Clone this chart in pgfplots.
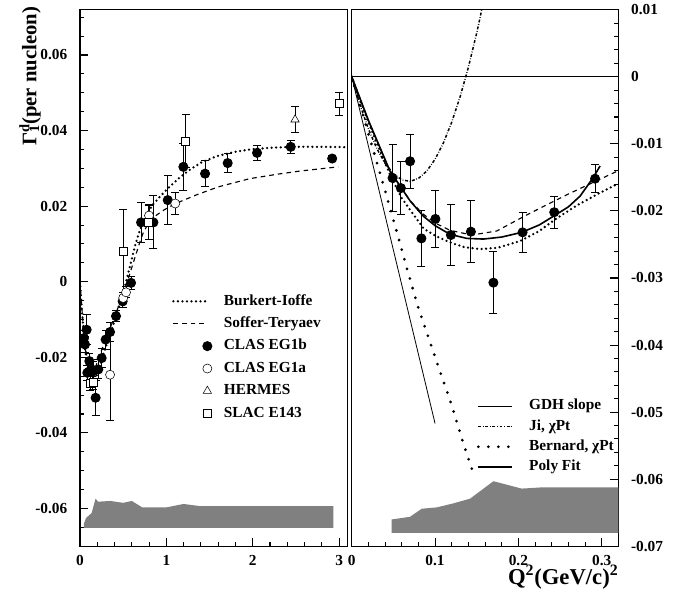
\documentclass[border=0pt]{standalone}
\usepackage{fontspec}
\setmainfont{Liberation Serif}
\usepackage{pgfplots}
\pgfplotsset{compat=1.18}
\definecolor{band}{gray}{0.5}

\newcommand{\lblfont}{\fontsize{11.5}{13}\selectfont\bfseries}

\pgfplotsset{
  panel/.style={
    scale only axis, height=402.5pt,
    scaled x ticks=false, scaled y ticks=false,
    axis line style={line width=1.1pt},
    tick align=inside, major tick length=6pt, minor tick length=3pt,
    tick style={line width=0.8pt, black},
    tick label style={font=\lblfont},
    legend cell align=left,
    legend style={draw=none, fill=none, inner sep=0pt, outer sep=0pt,
      font=\lblfont, nodes={inner sep=0pt, text height=8pt, text depth=2.5pt}},
    legend image code/.code={\draw[##1] (0pt,0pt) -- (24pt,0pt);},
  },
  dat/.style={only marks, black, mark size=3.4pt, mark options={line width=0.7pt, solid},
    error bars/y dir=both, error bars/y explicit,
    error bars/error bar style={line width=0.75pt, black, solid},
    error bars/error mark options={rotate=90, mark size=3pt, line width=0.75pt, black, solid}},
  markleg/.style={legend image code/.code={\draw[##1] plot coordinates {(25.5pt,0pt)};}},
  bistyle/.style={black, line width=1.9pt, line cap=round, dash pattern=on 0pt off 3.4pt},
  ststyle/.style={black, line width=0.85pt, dash pattern=on 3.5pt off 3pt},
}

\begin{document}
\begin{tikzpicture}
\path (0pt,0pt) rectangle (510.75pt,447pt);

% ---------------- left panel ----------------
\begin{axis}[panel, at={(60pt,38.25pt)}, anchor=south west, width=200.8pt,
  xmin=0, xmax=3.1, ymin=-0.07, ymax=0.072,
  xtick={0,1,2,3}, xticklabels={0,1,2,3},
  minor xtick={0.2,0.4,0.6,0.8,1.2,1.4,1.6,1.8,2.2,2.4,2.6,2.8,3.0},
  ytick={-0.06,-0.04,-0.02,0,0.02,0.04,0.06},
  yticklabels={-0.06,-0.04,-0.02,0,0.02,0.04,0.06},
  minor ytick={-0.065,-0.055,-0.05,-0.045,-0.035,-0.03,-0.025,-0.015,-0.01,-0.005,
    0.005,0.01,0.015,0.025,0.03,0.035,0.045,0.05,0.055,0.065,0.07},
  xtick pos=left, ytick pos=left,
  yticklabel style={xshift=-6pt}, xticklabel style={yshift=-3pt},
  legend style={at={(0.344,0.4695)}, anchor=north west, row sep=6.3pt,
    /tikz/every odd column/.append style={column sep=9pt}},
]
\addplot[fill=band, draw=none, forget plot] coordinates {
(0.046,-0.0651) (0.046,-0.0640) (0.07,-0.0625) (0.135,-0.0612) (0.18,-0.0574)
(0.21,-0.0582) (0.35,-0.0580) (0.5,-0.0585) (0.6,-0.0580) (0.72,-0.0597)
(1.0,-0.0597) (1.2,-0.0588) (1.4,-0.0594) (2.935,-0.0594) (2.935,-0.0651)};

\addplot[bistyle] coordinates {
(0,0) (0.01,-0.0035) (0.02,-0.0068) (0.03,-0.0099) (0.046,-0.0146) (0.06,-0.0181)
(0.086,-0.0226) (0.1,-0.0237) (0.118,-0.0247) (0.135,-0.0254) (0.154,-0.0257)
(0.175,-0.0255) (0.202,-0.0245) (0.225,-0.0230) (0.246,-0.0211) (0.27,-0.0192)
(0.295,-0.0175) (0.32,-0.0159) (0.38,-0.0118) (0.42,-0.0088) (0.47,-0.0052)
(0.52,-0.0012) (0.58,0.0042) (0.637,0.0095) (0.695,0.0138) (0.77,0.0178)
(0.85,0.0206) (0.95,0.0231) (1.05,0.0254) (1.15,0.0275) (1.25,0.0293) (1.4,0.0315)
(1.58,0.0332) (1.8,0.0344) (2.0,0.0351) (2.25,0.0355) (2.5,0.0357) (2.8,0.0357) (3.1,0.0356)};
\addlegendentry{Burkert-Ioffe}

\addplot[ststyle] coordinates {
(0,0) (0.02,-0.0066) (0.046,-0.0141) (0.07,-0.0185) (0.086,-0.0205) (0.1,-0.0218)
(0.118,-0.0229) (0.144,-0.0236) (0.174,-0.0230) (0.21,-0.0206) (0.258,-0.0176)
(0.32,-0.0140) (0.4,-0.0092) (0.5,-0.0034) (0.6,0.0038) (0.7,0.0110) (0.733,0.0130)
(0.78,0.0150) (0.85,0.0170) (0.95,0.0187) (1.05,0.0200) (1.16,0.0212) (1.35,0.0230)
(1.6,0.0251) (1.97,0.0273) (2.3,0.0285) (2.55,0.0293) (2.99,0.0304)};
\addlegendentry{Soffer-Teryaev}

\addplot[dat, mark=*, markleg] table[x=x, y=y, y error=e] {
x y e
0.046 -0.0149 0.0020
0.058 -0.0166 0.0020
0.077 -0.0127 0.0040
0.085 -0.0241 0.0020
0.108 -0.0210 0.0020
0.135 -0.0232 0.0020
0.154 -0.0237 0.0025
0.181 -0.0307 0.0046
0.212 -0.0232 0.0025
0.251 -0.0202 0.0025
0.297 -0.0153 0.0025
0.348 -0.0133 0.0025
0.417 -0.0091 0.0015
0.494 -0.0052 0.0015
0.591 -0.0003 0.0017
0.707 0.0157 0.0053
0.850 0.0157 0.0070
1.016 0.0216 0.0064
1.197 0.0304 0.0062
1.448 0.0286 0.0035
1.710 0.0314 0.0025
2.050 0.0341 0.0020
2.440 0.0357 0.0017
2.920 0.0326 0.0009
};
\addlegendentry{CLAS EG1b}

\addplot[dat, mark=*, mark options={fill=white}, markleg] table[x=x, y=y, y error=e] {
x y e
0.348 -0.0246 0.0120
0.500 -0.0043 0.0015
0.533 -0.0028 0.0015
0.799 0.0175 0.0030
1.103 0.0207 0.0030
};
\addlegendentry{CLAS EG1a}

\addplot[dat, mark=triangle*, mark size=3.6pt, mark options={fill=white}, markleg] table[x=x, y=y, y error=e] {
x y e
2.490 0.0429 0.0035
};
\addlegendentry{HERMES}

\addplot[dat, mark=square*, mark size=3pt, mark options={fill=white}, markleg] table[x=x, y=y, y error=e] {
x y e
0.116 -0.0268 0.0020
0.150 -0.0265 0.0020
0.502 0.0081 0.0110
0.794 0.0157 0.0045
1.223 0.0372 0.0070
3.000 0.0471 0.0030
};
\addlegendentry{SLAC E143}
\end{axis}

% ---------------- right panel ----------------
\begin{axis}[panel, at={(263.8pt,38.25pt)}, anchor=south west, width=200pt,
  xmin=0, xmax=0.32, ymin=-0.07, ymax=0.01,
  xtick={0,0.1,0.2,0.3}, xticklabels={0,0.1,0.2,0.3}, minor x tick num=4,
  ytick={-0.07,-0.06,-0.05,-0.04,-0.03,-0.02,-0.01,0,0.01},
  yticklabels={-0.07,-0.06,-0.05,-0.04,-0.03,-0.02,-0.01,0,0.01},
  minor y tick num=4,
  xtick pos=left, ytick pos=right, yticklabel pos=right,
  yticklabel style={xshift=6pt}, xticklabel style={yshift=-3pt},
  legend style={at={(0.469,0.274)}, anchor=north west, row sep=4.7pt,
    /tikz/every odd column/.append style={column sep=12pt}},
  legend image code/.code={\draw[#1] (0pt,0pt) -- (25pt,0pt);},
]
\addplot[fill=band, draw=none, forget plot] coordinates {
(0.048,-0.0680) (0.048,-0.0660) (0.07,-0.0656) (0.084,-0.0644) (0.102,-0.0642)
(0.122,-0.0636) (0.142,-0.0629) (0.17,-0.0603) (0.204,-0.0614) (0.23,-0.0612)
(0.32,-0.0612) (0.32,-0.0680)};

\addplot[black, line width=0.9pt, forget plot] coordinates {(0,0) (0.32,0)};

\addplot[bistyle, forget plot] coordinates {
(0,0) (0.01,-0.0035) (0.02,-0.0068) (0.03,-0.0099) (0.046,-0.0146) (0.06,-0.0181)
(0.086,-0.0226) (0.1,-0.0237) (0.118,-0.0247) (0.135,-0.0254) (0.154,-0.0257)
(0.175,-0.0255) (0.202,-0.0245) (0.225,-0.0230) (0.246,-0.0211) (0.27,-0.0192)
(0.295,-0.0175) (0.32,-0.0159)};

\addplot[ststyle, forget plot] coordinates {
(0,0) (0.02,-0.0066) (0.046,-0.0141) (0.07,-0.0185) (0.086,-0.0205) (0.1,-0.0218)
(0.118,-0.0229) (0.144,-0.0236) (0.174,-0.0230) (0.21,-0.0206) (0.258,-0.0176)
(0.32,-0.0140)};

\addplot[black, line width=0.6pt] coordinates {(0,0) (0.1,-0.0517)};
\addlegendentry{GDH slope}

\addplot[black, line width=1.1pt, dash pattern=on 2.2pt off 1.3pt on 0.5pt off 1.3pt] coordinates {
(0,0) (0.01,-0.00423) (0.02,-0.00779) (0.03,-0.01068) (0.04,-0.01291) (0.05,-0.01448)
(0.06,-0.01537) (0.07,-0.01560) (0.08,-0.01517) (0.09,-0.01407) (0.10,-0.01230)
(0.11,-0.00987) (0.12,-0.00677) (0.13,-0.00300) (0.14,0.00143) (0.15,0.00653) (0.16,0.01229)};
\addlegendentry{Ji, χPt}

\addplot[black, line width=2.3pt, line cap=round, dash pattern=on 0pt off 7.5pt] coordinates {
(0,0) (0.02,-0.0085) (0.038,-0.0161) (0.052,-0.0222) (0.066,-0.0285) (0.08,-0.0345)
(0.102,-0.0425) (0.12,-0.0490) (0.134,-0.0547) (0.147,-0.0595)};
\addlegendentry{Bernard, χPt}

\addplot[black, line width=1.2pt] coordinates {
(0,0) (0.02,-0.0065) (0.046,-0.0141) (0.07,-0.0185) (0.086,-0.0208) (0.1,-0.0222)
(0.118,-0.0235) (0.138,-0.0241) (0.158,-0.0242) (0.18,-0.0239) (0.204,-0.0232)
(0.225,-0.0221) (0.242,-0.0208) (0.26,-0.0194) (0.274,-0.0178) (0.29,-0.0150) (0.298,-0.0133)};
\addlegendentry{Poly Fit}

\addplot[dat, mark=*, forget plot] table[x=x, y=y, y error=e] {
x y e
0.049 -0.0151 0.0050
0.059 -0.0166 0.0039
0.070 -0.0126 0.0040
0.0836 -0.0241 0.0042
0.1004 -0.0212 0.0043
0.119 -0.0236 0.0045
0.143 -0.0231 0.0046
0.170 -0.0307 0.0046
0.205 -0.0232 0.0030
0.243 -0.0202 0.0024
0.292 -0.0152 0.0021
};
\end{axis}

\node[rotate=90, anchor=east, font=\fontsize{15.5}{18}\selectfont\bfseries, inner sep=0pt]
  at (22.5pt,443pt) {Γ\rlap{\textsuperscript{d}}\textsubscript{1}(per nucleon)};
\node[anchor=base east, font=\fontsize{17}{20}\selectfont\bfseries, inner sep=0pt]
  at (464pt,9.75pt) {Q\textsuperscript{2}(GeV/c)\textsuperscript{2}};
\end{tikzpicture}
\end{document}
